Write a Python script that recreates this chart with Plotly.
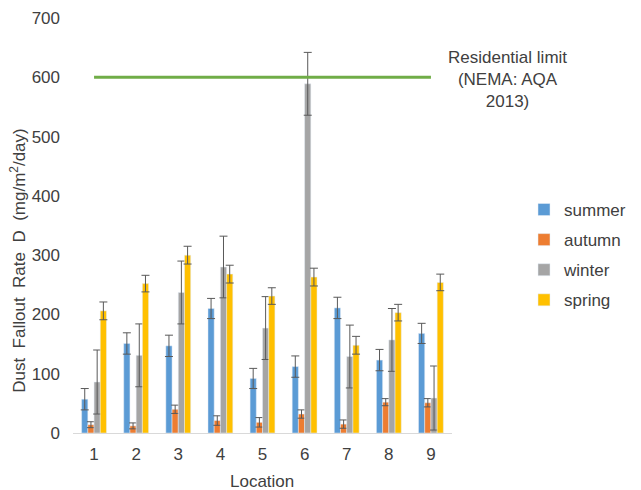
import plotly.graph_objects as go

locations = ["1", "2", "3", "4", "5", "6", "7", "8", "9"]
summer = [57, 151, 147, 210, 92, 112, 211, 123, 168]
summer_err = [18, 18, 18, 17, 17, 18, 18, 18, 17]
autumn = [14, 12, 40, 21, 18, 32, 15, 52, 51]
autumn_err = [5, 5, 7, 8, 8, 7, 7, 6, 7]
winter = [86, 131, 237, 280, 177, 589, 129, 157, 59]
winter_err = [54, 53, 53, 52, 53, 53, 53, 53, 54]
spring = [206, 252, 300, 268, 231, 263, 148, 203, 254]
spring_err = [15, 14, 15, 15, 14, 15, 15, 14, 14]
limit = [600] * 9

series = [
    ("summer", summer, summer_err, "#5B9BD5"),
    ("autumn", autumn, autumn_err, "#ED7D31"),
    ("winter", winter, winter_err, "#A5A5A5"),
    ("spring", spring, spring_err, "#FFC000"),
]

FONT = "Arial, Liberation Sans, sans-serif"
TXT = "#404040"

fig = go.Figure()
for name, vals, errs, col in series:
    fig.add_trace(go.Bar(
        x=locations, y=vals, name=name, marker_color=col,
        legendgroup=name,
        error_y=dict(type="data", array=errs, visible=True,
                     color="#595959", thickness=1, width=4),
    ))

fig.add_trace(go.Scatter(
    x=locations, y=limit, mode="lines", line=dict(color="#70AD47", width=3),
    showlegend=False, hoverinfo="skip",
))

fig.add_annotation(
    text="Residential limit<br>(NEMA: AQA<br>2013)", xref="paper", yref="paper",
    x=1.146, y=0.853, xanchor="center", yanchor="middle",
    showarrow=False, align="center",
    font=dict(size=17, color=TXT, family=FONT),
)
fig.add_annotation(
    text="Location", xref="paper", yref="paper", x=0.498, y=-0.118,
    xanchor="center", yanchor="middle",
    showarrow=False, font=dict(size=17, color=TXT, family=FONT),
)
fig.add_annotation(
    text="Dust&nbsp; Fallout&nbsp; Rate&nbsp; D&nbsp; (mg/m<sup>2</sup>/day)",
    xref="paper", yref="paper",
    x=-0.145, y=0.415, xanchor="center", yanchor="middle",
    textangle=-90, showarrow=False,
    font=dict(size=17, color=TXT, family=FONT),
)

fig.update_layout(
    width=641, height=490,
    margin=dict(l=65, r=196.5, t=10, b=65, autoexpand=False),
    plot_bgcolor="white", paper_bgcolor="white",
    font=dict(family=FONT, color=TXT, size=17),
    barmode="group", bargap=0.41, bargroupgap=0,
    legend=dict(x=1.19, xanchor="left", y=0.429, yanchor="middle",
                font=dict(size=17, color=TXT), tracegroupgap=5,
                itemwidth=30),
    xaxis=dict(
        showline=True, linecolor="#D9D9D9", linewidth=1, ticks="",
        tickfont=dict(size=17, color=TXT), automargin=False,
        ticklabelstandoff=6,
    ),
    yaxis=dict(
        range=[0, 700], dtick=100, showgrid=False, zeroline=False,
        tickfont=dict(size=17, color=TXT), ticks="", automargin=False,
        ticklabelstandoff=12,
    ),
)

fig.write_html("out.html")
